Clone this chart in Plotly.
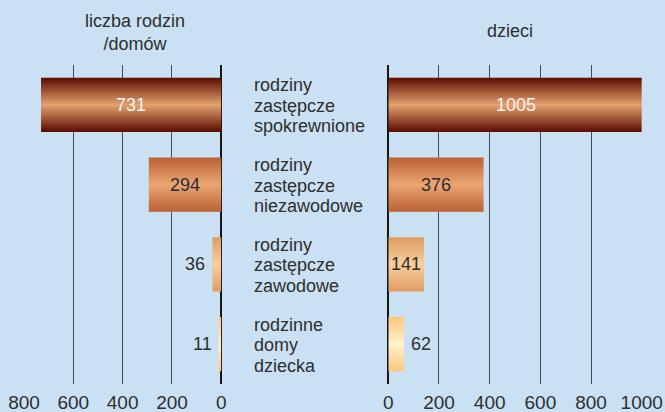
import plotly.graph_objects as go

# ---- data ----
categories = ["rodziny<br>zastępcze<br>spokrewnione",
              "rodziny<br>zastępcze<br>niezawodowe",
              "rodziny<br>zastępcze<br>zawodowe",
              "rodzinne<br>domy<br>dziecka"]
families = [731, 294, 36, 11]
children = [1005, 376, 141, 62]
left_ticks = [800, 600, 400, 200, 0]
right_ticks = [0, 200, 400, 600, 800, 1000]
left_title = "liczba rodzin<br>/domów"
right_title = "dzieci"

# ---- styles ----
W, H = 665, 412
BG = "#c9e1f3"
TXT = "#2e2e2e"
FONT = "Liberation Sans, Arial, sans-serif"
edge_cols = ["#5a0a00", "#bb6034", "#e09c62", "#fcc67e"]
mid_cols = ["#e4a26e", "#eaa674", "#f8cf9c", "#fff2cc"]
label_cols = ["#f4f4f4", TXT, TXT, TXT]
half_h = 0.34

top_px, bot_px = 65, 384
left_dom = [24 / W, 221.3 / W]
right_dom = [388.3 / W, 641.7 / W]


def py(p):  # pixel-from-top -> paper y
    return (bot_px - p) / (bot_px - top_px)


fig = go.Figure()

for xa, vals, dom, rng in [("x", families, left_dom, [800, 0]),
                           ("x2", children, right_dom, [0, 1000])]:
    for i, v in enumerate(vals):
        fig.add_trace(go.Scatter(
            x=[0, v, v, 0, 0],
            y=[i - half_h, i - half_h, i + half_h, i + half_h, i - half_h],
            xaxis=xa, yaxis="y", mode="lines", fill="toself",
            line=dict(width=0, color=edge_cols[i]),
            fillgradient=dict(type="vertical",
                              colorscale=[[0, edge_cols[i]], [0.5, mid_cols[i]], [1, edge_cols[i]]]),
            hoverinfo="skip", showlegend=False))
        px_w = v * (dom[1] - dom[0]) * W / (rng[0] + rng[1])
        inside = px_w >= 32
        sign = -1 if xa == "x" else 1
        fig.add_annotation(
            x=v / 2 if inside else v, y=i, xref=xa, yref="y",
            text=str(v), showarrow=False,
            xanchor="center" if inside else ("right" if xa == "x" else "left"),
            xshift=0 if inside else sign * 5,
            font=dict(size=18, color=label_cols[i] if inside else TXT, family=FONT))

# category labels
for i, c in enumerate(categories):
    lines = c.split("<br>")
    n = len(lines)
    for k, ln in enumerate(lines):
        fig.add_annotation(x=252 / W, y=i, xref="paper", yref="y", text=ln,
                           showarrow=False, xanchor="left", yanchor="middle",
                           yshift=-(k - (n - 1) / 2) * 20.5 - 1,
                           font=dict(size=18, color=TXT, family=FONT))

# titles
fig.add_annotation(x=134.7 / W, y=py(32), xref="paper", yref="paper", text=left_title,
                   showarrow=False, xanchor="center", yanchor="middle",
                   font=dict(size=18, color=TXT, family=FONT))
fig.add_annotation(x=509.7 / W, y=py(31), xref="paper", yref="paper", text=right_title,
                   showarrow=False, xanchor="center", yanchor="middle",
                   font=dict(size=18, color=TXT, family=FONT))

axis_common = dict(showgrid=True, gridcolor="#4a4a4a", gridwidth=1,
                   zeroline=True, zerolinecolor="#161616", zerolinewidth=1.5,
                   showline=False, ticks="", ticklabelstandoff=5, automargin=False,
                   tickfont=dict(size=19, color=TXT, family=FONT), fixedrange=True)

fig.update_layout(
    width=W, height=H,
    margin=dict(l=0, r=0, t=top_px, b=H - bot_px, autoexpand=False),
    paper_bgcolor=BG, plot_bgcolor=BG,
    xaxis=dict(domain=left_dom, range=[800, 0], tickvals=left_ticks,
               ticktext=[str(t) for t in left_ticks], anchor="y", **axis_common),
    xaxis2=dict(domain=right_dom, range=[0, 1000], tickvals=right_ticks,
                ticktext=[str(t) for t in right_ticks], anchor="y", **axis_common),
    yaxis=dict(range=[3.5, -0.5], showgrid=False, zeroline=False,
               showticklabels=False, ticks="", fixedrange=True, automargin=False),
    showlegend=False,
)

fig.write_html("out.html", config={"displayModeBar": False},
               post_script="document.body.style.margin='0';document.body.style.overflow='hidden';")
